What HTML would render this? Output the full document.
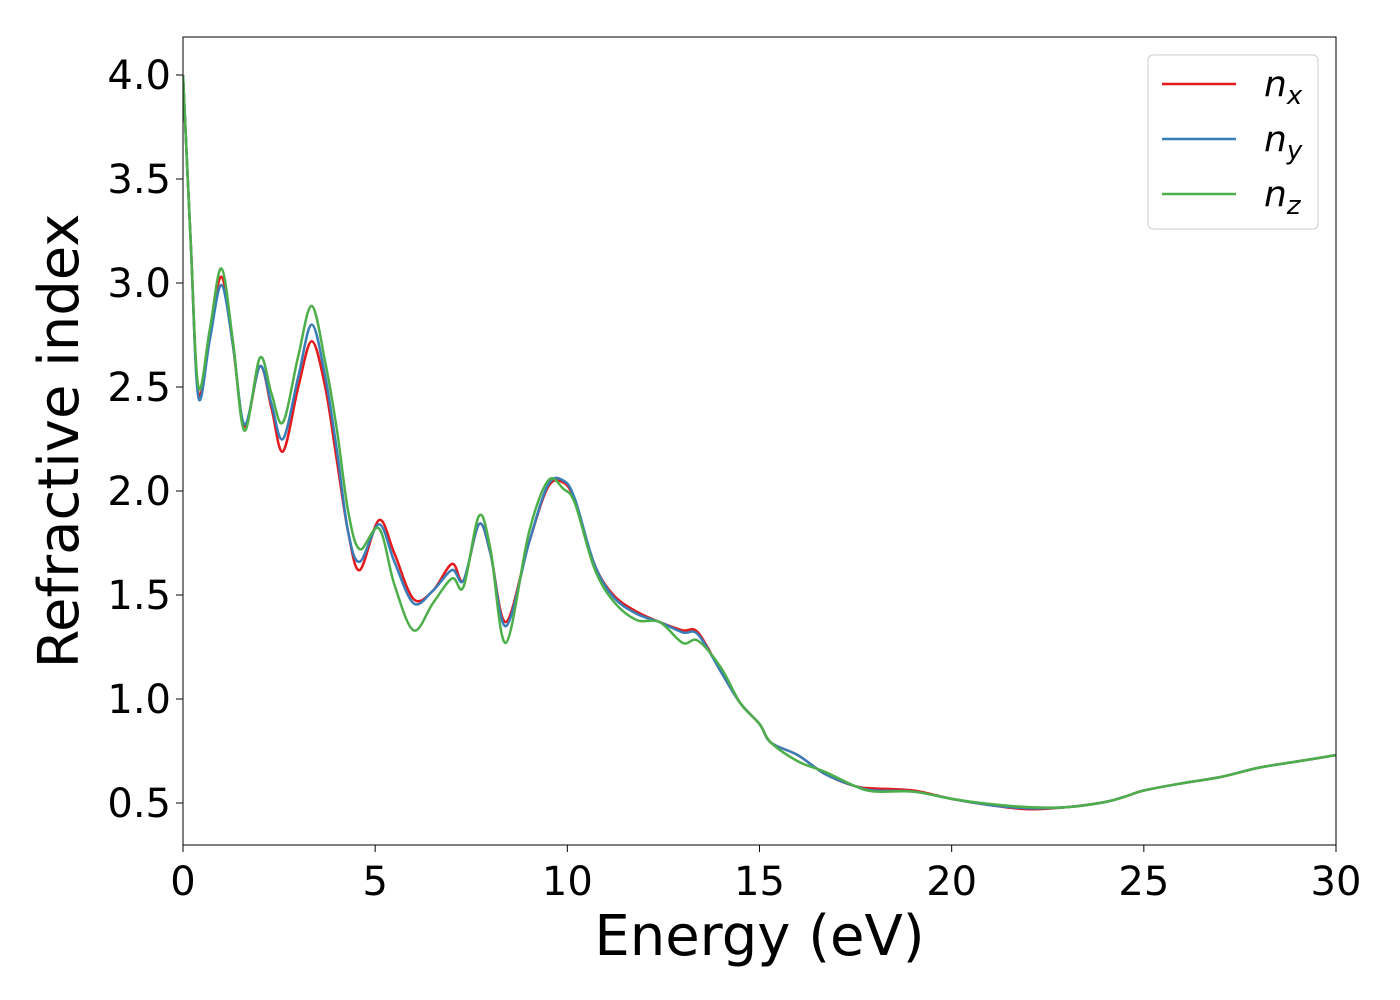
<!DOCTYPE html>
<html><head><meta charset="utf-8"><style>body{margin:0;background:#fff}svg{display:block}</style></head>
<body>
<svg id="chart" width="1400" height="1000" xmlns="http://www.w3.org/2000/svg" font-family="'DejaVu Sans','Liberation Sans',sans-serif">
<rect width="1400" height="1000" fill="#fff"/>
<g id="plot"></g>
</svg>
<script>
const energy = [0,0.2,0.4,0.7,1.0,1.3,1.6,2.0,2.3,2.6,3.0,3.35,3.7,4.0,4.3,4.6,5.1,5.5,6.0,6.5,7.0,7.3,7.7,8.0,8.4,9.0,9.5,9.9,10.2,10.7,11.2,11.8,12.4,13.0,13.4,14.0,14.5,15.0,15.3,16.0,16.7,17.5,18,19,20,21,22,23,24,24.5,25,26,27,28,29,30];
const nx = [4.0,3.2,2.47,2.75,3.03,2.7,2.31,2.60,2.4,2.19,2.5,2.72,2.5,2.15,1.8,1.62,1.86,1.7,1.48,1.52,1.65,1.57,1.84,1.7,1.37,1.75,2.02,2.04,1.95,1.65,1.5,1.42,1.37,1.33,1.32,1.13,0.98,0.88,0.79,0.73,0.64,0.58,0.57,0.56,0.52,0.49,0.47,0.48,0.505,0.53,0.56,0.595,0.625,0.67,0.70,0.73];
const ny = [4.0,3.2,2.45,2.73,2.99,2.7,2.32,2.60,2.42,2.25,2.55,2.80,2.55,2.2,1.8,1.66,1.84,1.66,1.46,1.52,1.62,1.57,1.84,1.7,1.35,1.75,2.03,2.05,1.96,1.65,1.49,1.41,1.37,1.32,1.31,1.13,0.98,0.88,0.79,0.73,0.64,0.58,0.56,0.555,0.52,0.49,0.475,0.48,0.505,0.53,0.56,0.595,0.625,0.67,0.70,0.73];
const nz = [4.0,3.2,2.50,2.78,3.07,2.72,2.29,2.64,2.47,2.33,2.65,2.89,2.62,2.3,1.9,1.72,1.82,1.55,1.33,1.46,1.58,1.54,1.88,1.72,1.27,1.8,2.05,2.01,1.94,1.63,1.47,1.38,1.37,1.27,1.28,1.15,0.98,0.88,0.79,0.70,0.65,0.58,0.555,0.555,0.52,0.495,0.48,0.48,0.505,0.53,0.56,0.595,0.625,0.67,0.70,0.73];
const xTicks = [0,5,10,15,20,25,30];
const yTicks = [0.5,1.0,1.5,2.0,2.5,3.0,3.5,4.0];
const yTickLabels = ["0.5","1.0","1.5","2.0","2.5","3.0","3.5","4.0"];
const seriesNames = ["x","y","z"];
const colors = ["#e41a1c","#377eb8","#4daf4a"];

const L=183,R=1336,T=37,B=845;
const xS=v=>L+(v-0)/30*(R-L);
const yS=v=>907-v*208;
const g=document.getElementById('plot');
const NS="http://www.w3.org/2000/svg";
function mk(t,a,p){const e=document.createElementNS(NS,t);for(const k in a)e.setAttribute(k,a[k]);(p||g).appendChild(e);return e;}

function path(xs,ys){
  const P=xs.map((x,i)=>[xS(x),yS(ys[i])]);
  let d=`M${P[0][0]},${P[0][1]}`;
  for(let i=0;i<P.length-1;i++){
    const p0=P[Math.max(0,i-1)],p1=P[i],p2=P[i+1],p3=P[Math.min(P.length-1,i+2)];
    const c1=[p1[0]+(p2[0]-p0[0])/6,p1[1]+(p2[1]-p0[1])/6];
    const c2=[p2[0]-(p3[0]-p1[0])/6,p2[1]-(p3[1]-p1[1])/6];
    d+=`C${c1[0]},${c1[1]} ${c2[0]},${c2[1]} ${p2[0]},${p2[1]}`;
  }
  return d;
}
const clip=mk('clipPath',{id:'pc'});mk('rect',{x:L,y:T,width:R-L,height:B-T},clip);
[nx,ny,nz].forEach((s,i)=>{
  const p=mk('path',{d:path(energy,s),fill:'none',stroke:colors[i],'stroke-width':2.5,'clip-path':'url(#pc)'});
  
  
});
const fr=mk('rect',{x:L,y:T,width:R-L,height:B-T,fill:'none',stroke:'#000','stroke-width':1});


xTicks.forEach(v=>{
  mk('line',{x1:xS(v),x2:xS(v),y1:B,y2:B+7,stroke:'#000','stroke-width':1});
  const t=mk('text',{x:xS(v),y:B+50,'text-anchor':'middle','font-size':40});t.textContent=v;
  
  
});
yTicks.forEach((v,i)=>{
  mk('line',{x1:L-7,x2:L,y1:yS(v),y2:yS(v),stroke:'#000','stroke-width':1});
  const t=mk('text',{x:L-12,y:yS(v)+14,'text-anchor':'end','font-size':40});t.textContent=yTickLabels[i];
  
  
});
const xt=mk('text',{x:(L+R)/2,y:955,'text-anchor':'middle','font-size':56});xt.textContent='Energy (eV)';


const yt=mk('text',{x:0,y:0,'text-anchor':'middle','font-size':56,transform:`translate(78,${(T+B)/2}) rotate(-90)`});yt.textContent='Refractive index';


const lg=mk('g',{});


mk('rect',{x:1148,y:55,width:170,height:174,rx:5,fill:'#fff',stroke:'#ccc','stroke-width':1},lg);
seriesNames.forEach((n,i)=>{
  const y=84+i*55;
  mk('line',{x1:1162,x2:1236,y1:y,y2:y,stroke:colors[i],'stroke-width':2.5},lg);
  const t=mk('text',{x:1264,y:y+12,'font-size':36,'font-style':'italic'},lg);
  t.textContent='n';
  const s=mk('tspan',{'font-size':26,dy:8},t);s.textContent=n;
  
  
});
</script>
</body></html>
